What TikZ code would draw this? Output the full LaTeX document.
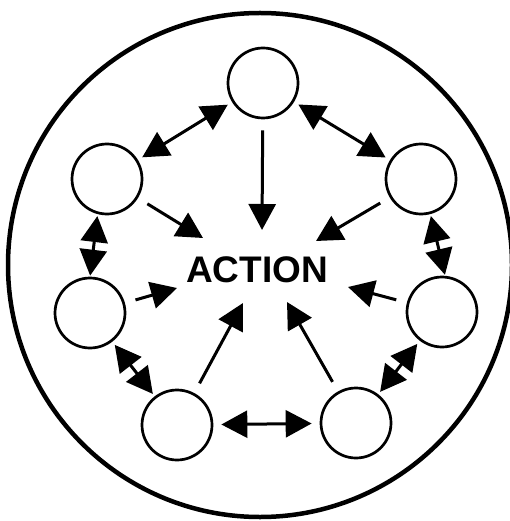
\documentclass[tikz,border=0pt]{standalone}
\usepackage{fontspec}
\newfontfamily\actionfont{Liberation Sans}
\usetikzlibrary{arrows.meta}
\begin{document}
\begin{tikzpicture}[x=1pt, y=-1pt, >={Triangle[length=26pt, width=27pt]},
	member/.style={draw, circle, line width=2.7pt, minimum size=70pt, inner sep=0pt},
	link/.style={<->, line width=3pt, shorten <=5pt, shorten >=5pt},
	push/.style={->, line width=3pt, shorten <=11pt}]
		\useasboundingbox (0,0) rectangle (510,521);
		\draw[line width=4.5pt] (260,265) circle (252pt);
		
		% Define nodes
		\node[font=\actionfont\bfseries\fontsize{37}{40}\selectfont] (action) at (257,270) {ACTION};
		\node[member] (top) at (263,83) {}; \node[member] (ul) at (107,179) {};
		\node[member] (ur) at (421,179) {}; \node[member] (ml) at (90,313) {};
		\node[member] (mr) at (442,312) {}; \node[member] (bl) at (177,425) {};
		\node[member] (br) at (356,423) {};
		
		% Arrow tips near the label
		\coordinate (toTop) at (262,230); \coordinate (toUl) at (203,238);
		\coordinate (toUr) at (316,241); \coordinate (toMl) at (177,288);
		\coordinate (toMr) at (348,287); \coordinate (toBl) at (243,303);
		\coordinate (toBr) at (287,302);
		
		% Draw edges
		\draw[push] (top) -- (toTop); \draw[push] (ul) -- (toUl); \draw[push] (ur) -- (toUr);
		\draw[push] (ml) -- (toMl); \draw[push] (mr) -- (toMr); \draw[push] (bl) -- (toBl);
		\draw[push] (br) -- (toBr);
		\draw[link] (top) -- (ul); \draw[link] (top) -- (ur);
		\draw[link, shorten <=2pt, shorten >=1pt] (ul.255) -- (ml.90);
		\draw[link, shorten <=2pt, shorten >=1pt] (ur.285) -- (mr.85);
		\draw[link, shorten <=4pt, shorten >=3pt] (ml) -- (bl);
		\draw[link, shorten <=4pt, shorten >=3pt] (mr) -- (br);
		\draw[link, shorten <=8pt, shorten >=8pt] (bl) -- (br);
	\end{tikzpicture}
\end{document}
